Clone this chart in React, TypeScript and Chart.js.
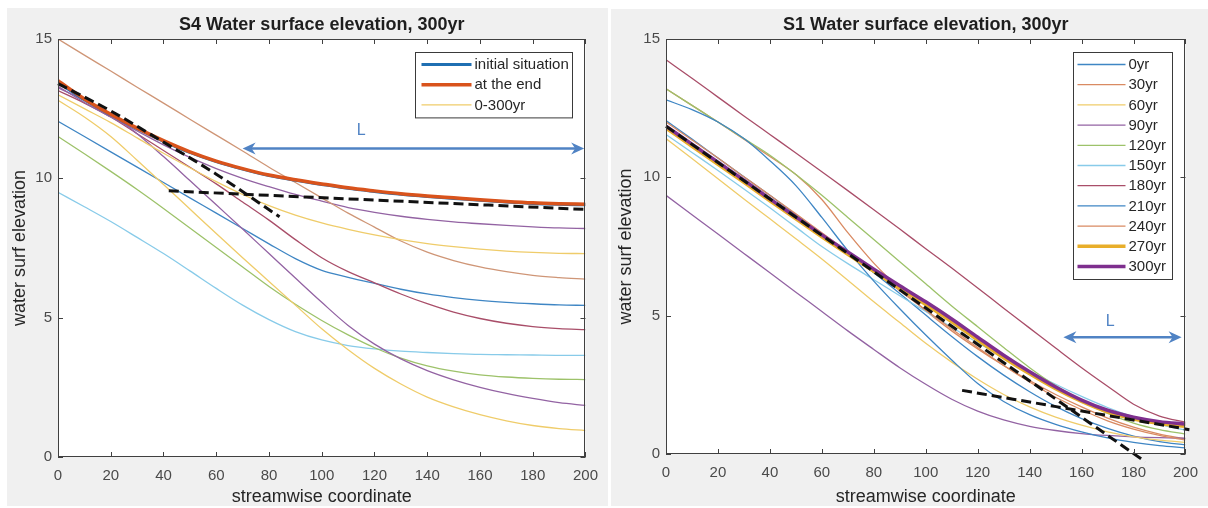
import React, { useEffect, useRef } from "react";
import { Chart, registerables } from "chart.js";

Chart.register(...registerables);

const FONT = '"Liberation Sans", Arial, Helvetica, sans-serif';

// ---------- shared axes ----------
const xGrid = [0, 10, 20, 30, 40, 50, 60, 70, 80, 90, 100, 110, 120, 130, 140, 150, 160, 170, 180, 190, 200];
const xTickValues = [0, 20, 40, 60, 80, 100, 120, 140, 160, 180, 200];
const yTickValues = [0, 5, 10, 15];
const xAxisTitle = "streamwise coordinate";
const yAxisTitle = "water surf elevation";

// ---------- S4 (left panel) ----------
const s4Title = "S4 Water surface elevation, 300yr";
const s4LegendLabels = ["initial situation", "at the end", "0-300yr"];
const s4Initial = [13.45, 12.82, 12.28, 11.78, 11.33, 10.93, 10.6, 10.33, 10.1, 9.93, 9.78, 9.64, 9.53, 9.43, 9.35, 9.28, 9.21, 9.15, 9.1, 9.07, 9.05];
const s4End = [13.5, 12.85, 12.3, 11.8, 11.35, 10.95, 10.62, 10.35, 10.12, 9.95, 9.8, 9.66, 9.55, 9.45, 9.37, 9.3, 9.23, 9.17, 9.12, 9.09, 9.07];
const s4YellowUpper = [13.0, 12.5, 12.0, 11.45, 10.9, 10.38, 9.88, 9.42, 9.02, 8.68, 8.4, 8.17, 7.97, 7.8, 7.66, 7.55, 7.46, 7.39, 7.34, 7.31, 7.3];
const s4Brown = [15.0, 14.42, 13.85, 13.27, 12.7, 12.12, 11.55, 10.98, 10.4, 9.85, 9.3, 8.75, 8.25, 7.75, 7.35, 7.05, 6.82, 6.65, 6.52, 6.44, 6.38];
const s4PurpleUpper = [13.3, 12.72, 12.2, 11.7, 11.2, 10.75, 10.35, 10.0, 9.7, 9.42, 9.18, 8.95, 8.78, 8.64, 8.53, 8.44, 8.37, 8.31, 8.26, 8.22, 8.2];
const s4YellowSteep = [12.8, 12.2, 11.5, 10.65, 9.78, 8.9, 8.02, 7.15, 6.3, 5.45, 4.6, 3.85, 3.18, 2.62, 2.15, 1.8, 1.52, 1.3, 1.13, 1.02, 0.95];
const s4PurpleSteep = [13.25, 12.8, 12.3, 11.6, 10.78, 9.92, 9.05, 8.18, 7.3, 6.42, 5.55, 4.72, 4.05, 3.52, 3.1, 2.77, 2.5, 2.28, 2.1, 1.95, 1.85];
const s4DarkRed = [13.15, 12.7, 12.2, 11.6, 11.0, 10.4, 9.8, 9.15, 8.5, 7.8, 7.15, 6.65, 6.25, 5.85, 5.5, 5.2, 4.97, 4.8, 4.68, 4.61, 4.57];
const s4Blue = [12.05, 11.5, 10.95, 10.4, 9.85, 9.3, 8.75, 8.2, 7.65, 7.12, 6.7, 6.45, 6.23, 6.02, 5.85, 5.72, 5.62, 5.55, 5.5, 5.46, 5.44];
const s4Green = [11.5, 10.88, 10.25, 9.6, 8.92, 8.22, 7.52, 6.82, 6.12, 5.48, 4.9, 4.38, 3.92, 3.55, 3.27, 3.08, 2.95, 2.87, 2.82, 2.79, 2.78];
const s4LightBlue = [9.5, 8.98, 8.45, 7.88, 7.3, 6.68, 6.05, 5.45, 4.93, 4.5, 4.2, 4.0, 3.88, 3.8, 3.75, 3.71, 3.68, 3.67, 3.66, 3.65, 3.65];
const s4DashSteepX = [0, 20, 40, 60, 84];
const s4DashSteepY = [13.4, 12.42, 11.3, 10.15, 8.62];
const s4DashFlatX = [42, 201];
const s4DashFlatY = [9.55, 8.88];
const s4ArrowX = [70, 199.5];
const s4ArrowY = 11.07;
const s4LabelPos = [115, 11.7];

// ---------- S1 (right panel) ----------
const s1Title = "S1 Water surface elevation, 300yr";
const s1Labels = ["0yr", "30yr", "60yr", "90yr", "120yr", "150yr", "180yr", "210yr", "240yr", "270yr", "300yr"];
const s1Y0 = [12.8, 12.45, 12.0, 11.4, 10.6, 9.7, 8.55, 7.35, 6.25, 5.25, 4.3, 3.4, 2.55, 1.9, 1.42, 1.07, 0.8, 0.58, 0.42, 0.3, 0.22];
const s1Y30 = [12.0, 11.35, 10.7, 10.02, 9.35, 8.68, 8.0, 7.3, 6.6, 5.9, 5.2, 4.52, 3.85, 3.2, 2.6, 2.05, 1.6, 1.2, 0.9, 0.67, 0.5];
const s1Y60 = [11.4, 10.68, 9.95, 9.22, 8.5, 7.78, 7.05, 6.28, 5.5, 4.75, 4.0, 3.32, 2.7, 2.15, 1.7, 1.33, 1.04, 0.8, 0.62, 0.5, 0.42];
const s1Y90 = [9.35, 8.65, 7.95, 7.25, 6.55, 5.85, 5.15, 4.45, 3.78, 3.12, 2.52, 1.98, 1.55, 1.23, 1.0, 0.85, 0.74, 0.67, 0.62, 0.59, 0.57];
const s1Y120 = [13.2, 12.6, 12.0, 11.4, 10.8, 10.1, 9.35, 8.55, 7.75, 6.95, 6.15, 5.35, 4.6, 3.85, 3.12, 2.47, 1.92, 1.47, 1.12, 0.88, 0.72];
const s1Y150 = [11.55, 10.9, 10.25, 9.58, 8.9, 8.2, 7.5, 6.88, 6.3, 5.72, 5.15, 4.58, 4.02, 3.5, 3.0, 2.52, 2.08, 1.68, 1.34, 1.07, 0.86];
const s1Y180 = [14.25, 13.58, 12.9, 12.22, 11.55, 10.88, 10.2, 9.52, 8.83, 8.13, 7.42, 6.72, 6.0, 5.27, 4.55, 3.83, 3.12, 2.45, 1.8, 1.37, 1.15];
const s1Y210 = [12.05, 11.38, 10.7, 10.02, 9.35, 8.65, 7.95, 7.25, 6.55, 5.8, 5.02, 4.25, 3.52, 2.85, 2.25, 1.72, 1.28, 0.93, 0.65, 0.45, 0.33];
const s1Y240 = [13.2, 12.6, 12.0, 11.38, 10.75, 10.1, 9.2, 8.0, 6.9, 5.98, 5.18, 4.45, 3.8, 3.2, 2.65, 2.15, 1.7, 1.3, 0.97, 0.72, 0.55];
const s1Y270 = [11.78, 11.12, 10.47, 9.82, 9.15, 8.5, 7.85, 7.22, 6.6, 5.99, 5.4, 4.78, 4.12, 3.48, 2.9, 2.36, 1.9, 1.52, 1.26, 1.1, 1.0];
const s1Y300 = [11.85, 11.2, 10.55, 9.9, 9.22, 8.57, 7.92, 7.3, 6.68, 6.08, 5.5, 4.88, 4.22, 3.57, 2.97, 2.42, 1.95, 1.58, 1.33, 1.17, 1.08];
const s1DashSteepX = [0, 184.5];
const s1DashSteepY = [11.85, -0.28];
const s1DashFlatX = [114, 201.5];
const s1DashFlatY = [2.3, 0.88];
const s1ArrowX = [153, 198.5];
const s1ArrowY = 4.22;
const s1LabelPos = [171, 4.78];

// ---------- colours ----------
const C = {
  blue: "#3f86c4",
  blueThick: "#1f6fb2",
  orange: "#d98a62",
  orangeThick: "#d9531c",
  yellow: "#efcc6a",
  yellowThick: "#e8ae2a",
  purple: "#9363a3",
  purpleThick: "#7e2f8e",
  green: "#9dc26a",
  lightBlue: "#88cbe9",
  darkRed: "#a94e69",
  brown: "#cf9677",
  arrow: "#5083c4",
};

function curve(label: string, ys: number[], color: string, width: number, order: number, inLegend = false) {
  return {
    label,
    data: xGrid.map((x, i) => ({ x, y: ys[i] })),
    borderColor: color,
    backgroundColor: color,
    borderWidth: width,
    pointRadius: 0,
    cubicInterpolationMode: "monotone",
    fill: false,
    order,
    inLegend,
  };
}

function dashed(xs: number[], ys: number[]) {
  return {
    label: "",
    data: xs.map((x, i) => ({ x, y: ys[i] })),
    borderColor: "#111111",
    borderWidth: 3,
    borderDash: [10, 5],
    pointRadius: 0,
    cubicInterpolationMode: "monotone",
    fill: false,
    clip: false,
    order: 0,
    inLegend: false,
  };
}

type PanelCfg = {
  title: string;
  datasets: any[];
  legendWidth: number;
  arrowX: number[];
  arrowY: number;
  labelPos: number[];
  yWidth: number;
  xHeight: number;
  padTop: number;
  padRight: number;
  yTitlePad: number;
  titleY: number;
  width: number;
  height: number;
  left: number;
  top: number;
};

const s4Cfg: PanelCfg = {
  title: s4Title,
  datasets: [
    dashed(s4DashSteepX, s4DashSteepY),
    dashed(s4DashFlatX, s4DashFlatY),
    curve(s4LegendLabels[1], s4End, C.orangeThick, 3.5, 2, true),
    curve(s4LegendLabels[0], s4Initial, C.blueThick, 3, 3, true),
    curve(s4LegendLabels[2], s4YellowUpper, C.yellow, 1.3, 5, true),
    curve("", s4Brown, C.brown, 1.3, 5),
    curve("", s4PurpleUpper, C.purple, 1.3, 5),
    curve("", s4YellowSteep, C.yellow, 1.3, 5),
    curve("", s4PurpleSteep, C.purple, 1.3, 5),
    curve("", s4DarkRed, C.darkRed, 1.3, 5),
    curve("", s4Blue, C.blue, 1.3, 5),
    curve("", s4Green, C.green, 1.3, 5),
    curve("", s4LightBlue, C.lightBlue, 1.3, 5),
  ],
  legendWidth: 157,
  arrowX: s4ArrowX,
  arrowY: s4ArrowY,
  labelPos: s4LabelPos,
  yWidth: 51,
  xHeight: 49,
  padTop: 31,
  padRight: 16,
  yTitlePad: 4.3,
  titleY: 17,
  width: 601,
  height: 498,
  left: 7,
  top: 8,
};

const s1Colors = [C.blue, C.orange, C.yellow, C.purple, C.green, C.lightBlue, C.darkRed, C.blue, C.orange, C.yellowThick, C.purpleThick];
const s1Series = [s1Y0, s1Y30, s1Y60, s1Y90, s1Y120, s1Y150, s1Y180, s1Y210, s1Y240, s1Y270, s1Y300];

const s1Cfg: PanelCfg = {
  title: s1Title,
  datasets: [
    dashed(s1DashSteepX, s1DashSteepY),
    dashed(s1DashFlatX, s1DashFlatY),
    ...s1Series.map((ys, i) =>
      curve(s1Labels[i], ys, s1Colors[i], i >= 9 ? 3.5 : 1.3, i === 10 ? 1 : i === 9 ? 2 : 5, true)
    ),
  ],
  legendWidth: 99,
  arrowX: s1ArrowX,
  arrowY: s1ArrowY,
  labelPos: s1LabelPos,
  yWidth: 55,
  xHeight: 52,
  padTop: 30,
  padRight: 15,
  yTitlePad: 6,
  titleY: 16,
  width: 597,
  height: 497,
  left: 611,
  top: 9,
};

function makeDeco(cfg: PanelCfg) {
  return {
    id: "deco",
    beforeDatasetsDraw(chart: any) {
      const { ctx, chartArea: a } = chart;
      ctx.save();
      ctx.fillStyle = "#ffffff";
      ctx.fillRect(a.left, a.top, a.right - a.left, a.bottom - a.top);
      ctx.restore();
    },
    afterDatasetsDraw(chart: any) {
      const { ctx, chartArea: a, scales } = chart;
      const xs = scales.x;
      const ys = scales.y;
      ctx.save();
      // frame
      ctx.strokeStyle = "#404040";
      ctx.lineWidth = 1;
      ctx.strokeRect(Math.round(a.left) + 0.5, Math.round(a.top) + 0.5, Math.round(a.right - a.left) - 1, Math.round(a.bottom - a.top) - 1);
      ctx.beginPath();
      xTickValues.forEach((v) => {
        const px = Math.round(xs.getPixelForValue(v)) + 0.5;
        ctx.moveTo(px, a.bottom);
        ctx.lineTo(px, a.bottom - 5);
        ctx.moveTo(px, a.top);
        ctx.lineTo(px, a.top + 5);
      });
      yTickValues.forEach((v) => {
        const py = Math.round(ys.getPixelForValue(v)) + 0.5;
        ctx.moveTo(a.left, py);
        ctx.lineTo(a.left + 5, py);
        ctx.moveTo(a.right, py);
        ctx.lineTo(a.right - 5, py);
      });
      ctx.stroke();

      // arrow
      const y = ys.getPixelForValue(cfg.arrowY);
      const x0 = xs.getPixelForValue(cfg.arrowX[0]);
      const x1 = xs.getPixelForValue(cfg.arrowX[1]);
      ctx.strokeStyle = C.arrow;
      ctx.fillStyle = C.arrow;
      ctx.lineWidth = 2.5;
      ctx.beginPath();
      ctx.moveTo(x0 + 8, y);
      ctx.lineTo(x1 - 8, y);
      ctx.stroke();
      const head = (tip: number, dir: number) => {
        ctx.beginPath();
        ctx.moveTo(tip, y);
        ctx.lineTo(tip + dir * 13, y - 6);
        ctx.lineTo(tip + dir * 9, y);
        ctx.lineTo(tip + dir * 13, y + 6);
        ctx.closePath();
        ctx.fill();
      };
      head(x0, 1);
      head(x1, -1);
      ctx.font = `16px ${FONT}`;
      ctx.textAlign = "center";
      ctx.textBaseline = "middle";
      ctx.fillText("L", xs.getPixelForValue(cfg.labelPos[0]), ys.getPixelForValue(cfg.labelPos[1]));
      ctx.restore();
    },
    afterDraw(chart: any) {
      const { ctx, chartArea: a } = chart;
      ctx.save();
      // title
      ctx.fillStyle = "#1e1e1e";
      ctx.font = `bold 18px ${FONT}`;
      ctx.textAlign = "center";
      ctx.textBaseline = "middle";
      ctx.fillText(cfg.title, (a.left + a.right) / 2, cfg.titleY);

      // legend
      const entries = chart.data.datasets.filter((d: any) => d.inLegend);
      const order = cfg.title === s4Title ? s4LegendLabels : s1Labels;
      const sorted = order.map((lab) => entries.find((d: any) => d.label === lab)).filter(Boolean);
      const rowH = 20.2;
      const bw = cfg.legendWidth;
      const bh = 25 + rowH * (sorted.length - 1);
      const bx = Math.round(a.right - 13 - bw) + 0.5;
      const by = Math.round(a.top + 13) + 0.5;
      ctx.fillStyle = "#ffffff";
      ctx.fillRect(bx, by, bw, bh);
      ctx.strokeStyle = "#3a3a3a";
      ctx.lineWidth = 1;
      ctx.strokeRect(bx, by, bw, bh);
      const lineStart = cfg.title === s4Title ? 6 : 4;
      const lineLen = cfg.title === s4Title ? 50 : 48;
      ctx.font = `15px ${FONT}`;
      ctx.textAlign = "left";
      ctx.textBaseline = "middle";
      sorted.forEach((d: any, i: number) => {
        const ry = by + 12 + rowH * i;
        ctx.strokeStyle = d.borderColor;
        ctx.lineWidth = d.borderWidth;
        ctx.beginPath();
        ctx.moveTo(bx + lineStart, ry);
        ctx.lineTo(bx + lineStart + lineLen, ry);
        ctx.stroke();
        ctx.fillStyle = "#262626";
        ctx.fillText(d.label, bx + lineStart + lineLen + 3, ry + 0.5);
      });
      ctx.restore();
    },
  };
}

function buildConfig(cfg: PanelCfg): any {
  const tickFont = { family: FONT, size: 15 };
  const titleFont = { family: FONT, size: 18, lineHeight: 1 };
  return {
    type: "line",
    data: { datasets: cfg.datasets },
    options: {
      responsive: false,
      animation: false,
      devicePixelRatio: 1,
      layout: { padding: { top: cfg.padTop, right: cfg.padRight, left: 0, bottom: 0 } },
      plugins: {
        legend: { display: false },
        tooltip: { enabled: false },
        title: { display: false },
      },
      scales: {
        x: {
          type: "linear",
          min: 0,
          max: 200,
          grid: { display: false, drawTicks: false },
          border: { display: false },
          ticks: { stepSize: 20, padding: 10, color: "#4a4a4a", font: tickFont, maxRotation: 0, autoSkip: false },
          title: { display: true, text: xAxisTitle, color: "#262626", font: titleFont, padding: { top: 0, bottom: 0 } },
          afterFit: (s: any) => {
            s.height = cfg.xHeight;
          },
        },
        y: {
          type: "linear",
          min: 0,
          max: 15,
          grid: { display: false, drawTicks: false },
          border: { display: false },
          ticks: { stepSize: 5, padding: 6, color: "#4a4a4a", font: tickFont },
          title: { display: true, text: yAxisTitle, color: "#262626", font: titleFont, padding: { top: cfg.yTitlePad, bottom: 0 } },
          afterFit: (s: any) => {
            s.width = cfg.yWidth;
          },
        },
      },
    },
    plugins: [makeDeco(cfg)],
  };
}

function Panel({ cfg }: { cfg: PanelCfg }) {
  const ref = useRef<HTMLCanvasElement>(null);
  useEffect(() => {
    const chart = new Chart(ref.current as HTMLCanvasElement, buildConfig(cfg));
    return () => chart.destroy();
  }, [cfg]);
  return (
    <div
      style={{
        position: "absolute",
        left: cfg.left,
        top: cfg.top,
        width: cfg.width,
        height: cfg.height,
        background: "#f0f0f0",
      }}
    >
      <canvas ref={ref} width={cfg.width} height={cfg.height} style={{ display: "block", width: cfg.width, height: cfg.height }} />
    </div>
  );
}

export default function App() {
  return (
    <div style={{ position: "absolute", left: 0, top: 0, width: 1208, height: 508, background: "#ffffff", overflow: "hidden" }}>
      <Panel cfg={s4Cfg} />
      <Panel cfg={s1Cfg} />
    </div>
  );
}
